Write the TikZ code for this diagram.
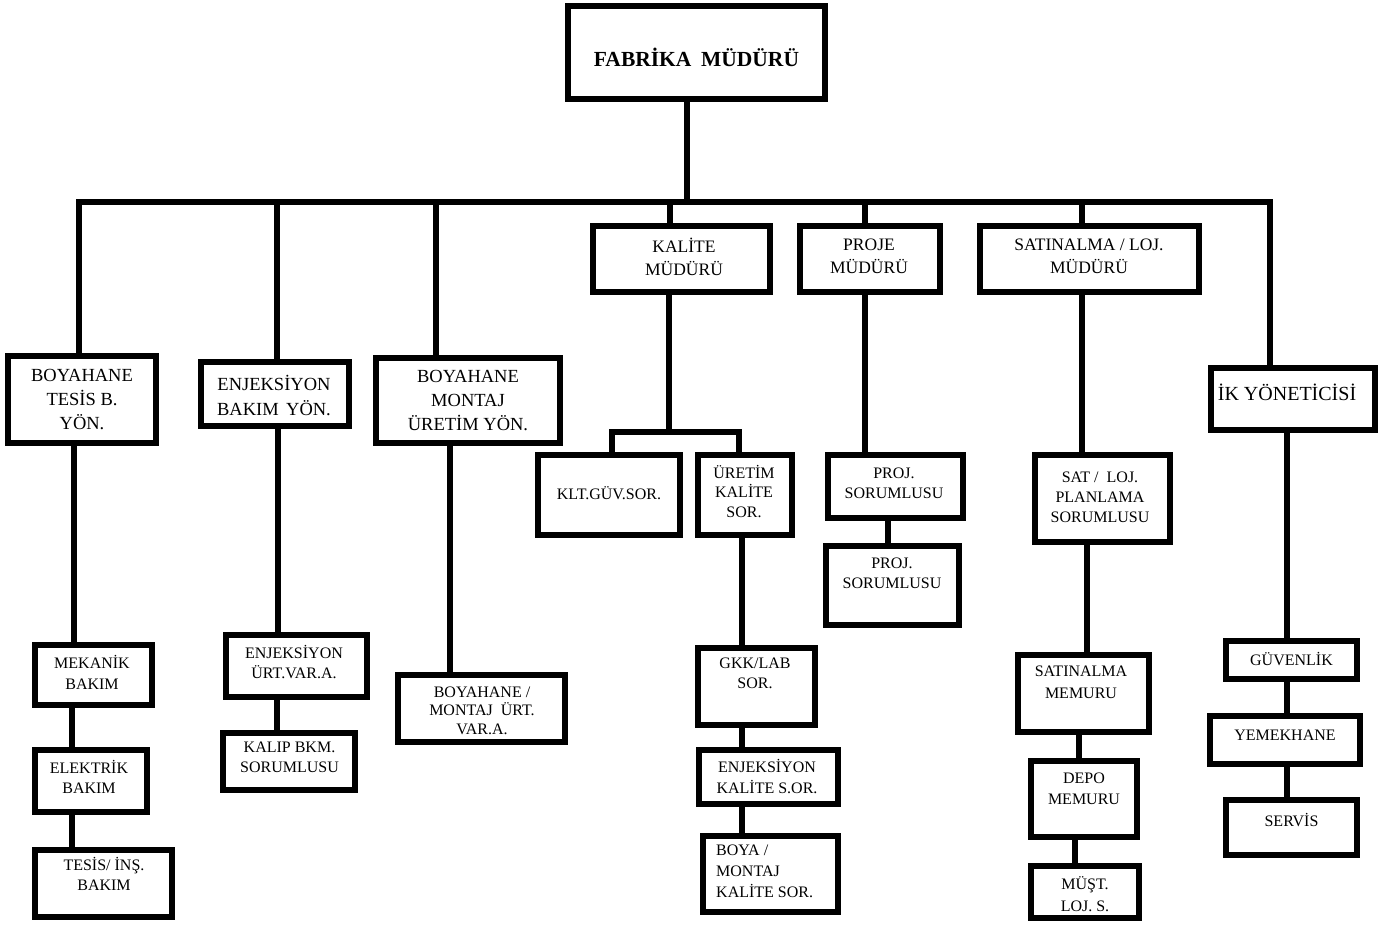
\documentclass[tikz,border=0pt]{standalone}
\usepackage{fontspec}
\setmainfont{Liberation Serif}
% box given by its outer edges: name, x1, y1, x2, y2 (border is 6pt thick)
\newcommand\orgnode[5]{%
  \node[orgbox, minimum width={#4-#2-6}, minimum height={#5-#3-6}] (#1)
    at ({(#2+#4)/2},{(#3+#5)/2}) {};}
\begin{document}
\begin{tikzpicture}[x=1pt,y=-1pt,
  orgbox/.style={draw, line width=6pt, rectangle, inner sep=0pt},
  wire/.style={line width=5.5pt},
  lbl/.style={align=center, inner sep=0pt, font=\fontsize{16}{20}\selectfont},
  lblbig/.style={align=center, inner sep=0pt, font=\fontsize{18.5}{24}\selectfont},
  lblmid/.style={align=center, inner sep=0pt, font=\fontsize{17.5}{23}\selectfont}]
\useasboundingbox (0,0) rectangle (1389,924);

% ---- boxes ----
\orgnode{fab}{565}{3}{828}{102}
\orgnode{b1}{5}{353}{159}{446}
\orgnode{b2}{198}{359}{352}{429}
\orgnode{b3}{373}{355}{563}{446}
\orgnode{kal}{590}{223}{773}{295}
\orgnode{pro}{797}{223}{943}{295}
\orgnode{sat}{977}{223}{1202}{295}
\orgnode{ik}{1208}{365}{1378}{433}
\orgnode{klt}{535}{452}{683}{538}
\orgnode{uks}{695}{452}{795}{538}
\orgnode{gkk}{695}{645}{818}{728}
\orgnode{eks}{696}{747}{841}{807}
\orgnode{bmk}{700}{833}{841}{915}
\orgnode{pj1}{825}{452}{966}{521}
\orgnode{pj2}{823}{543}{962}{628}
\orgnode{spl}{1032}{452}{1173}{545}
\orgnode{smm}{1015}{652}{1152}{735}
\orgnode{dep}{1028}{758}{1140}{840}
\orgnode{mus}{1028}{863}{1142}{921}
\orgnode{gvn}{1223}{638}{1360}{682}
\orgnode{yem}{1207}{713}{1363}{767}
\orgnode{srv}{1223}{797}{1360}{858}
\orgnode{mek}{32}{642}{155}{708}
\orgnode{ele}{32}{747}{150}{815}
\orgnode{tes}{32}{847}{175}{920}
\orgnode{eua}{223}{632}{370}{700}
\orgnode{kbs}{220}{730}{358}{793}
\orgnode{bmu}{395}{672}{568}{745}

% ---- labels ----
\node[inner sep=0pt, font=\bfseries\fontsize{21.5}{26}\selectfont] (fab-t) at (696.5,57) {FABRİKA\hspace{0.45em}MÜDÜRÜ};
\node[lblbig] (b1-t) at (82,399) {BOYAHANE\\TESİS B.\\YÖN.};
\node[lblbig, font=\fontsize{18.5}{25}\selectfont] (b2-t) at (274,395) {ENJEKSİYON\\BAKIM\hspace{0.4em}YÖN.};
\node[lblbig] (b3-t) at (468,400) {BOYAHANE\\MONTAJ\\ÜRETİM YÖN.};
\node[lblmid] (kal-t) at (684,256.5) {KALİTE\\MÜDÜRÜ};
\node[lblmid] (pro-t) at (869,256.5) {PROJE\\MÜDÜRÜ};
\node[lblmid] (sat-t) at (1089,256.5) {SATINALMA / LOJ.\\MÜDÜRÜ};
\node[inner sep=0pt, font=\fontsize{20}{24}\selectfont] (ik-t) at (1287,392) {İK YÖNETİCİSİ};
\node[lbl] (klt-t) at (609,493) {KLT.GÜV.SOR.};
\node[lbl, font=\fontsize{16}{19.5}\selectfont] (uks-t) at (744,491.5) {ÜRETİM\\KALİTE\\SOR.};
\node[lbl] (gkk-t) at (755,673) {GKK/LAB\\SOR.};
\node[lbl, font=\fontsize{16}{21}\selectfont] (eks-t) at (767,776) {ENJEKSİYON\\KALİTE S.OR.};
\node[lbl, align=left, anchor=west, font=\fontsize{16}{21}\selectfont] (bmk-t) at (716,871) {BOYA /\\MONTAJ\\KALİTE SOR.};
\node[lbl] (pj1-t) at (894,483) {PROJ.\\SORUMLUSU};
\node[lbl] (pj2-t) at (892,573) {PROJ.\\SORUMLUSU};
\node[lbl] (spl-t) at (1100,497) {SAT /\hspace{0.5em}LOJ.\\PLANLAMA\\SORUMLUSU};
\node[lbl, font=\fontsize{16}{22}\selectfont] (smm-t) at (1081,682) {SATINALMA\\MEMURU};
\node[lbl, font=\fontsize{16}{21}\selectfont] (dep-t) at (1084,789) {DEPO\\MEMURU};
\node[lbl, font=\fontsize{16}{22}\selectfont] (mus-t) at (1085,894) {MÜŞT.\\LOJ. S.};
\node[lbl] (gvn-t) at (1291.5,659) {GÜVENLİK};
\node[lbl] (yem-t) at (1285,735) {YEMEKHANE};
\node[lbl] (srv-t) at (1291.5,820) {SERVİS};
\node[lbl, font=\fontsize{16}{21}\selectfont] (mek-t) at (92,672.5) {MEKANİK\\BAKIM};
\node[lbl] (ele-t) at (89,777) {ELEKTRİK\\BAKIM};
\node[lbl] (tes-t) at (104,874) {TESİS/ İNŞ.\\BAKIM};
\node[lbl] (eua-t) at (294,662.5) {ENJEKSİYON\\ÜRT.VAR.A.};
\node[lbl] (kbs-t) at (289.5,757.5) {KALIP BKM.\\SORUMLUSU};
\node[lbl, font=\fontsize{16}{18.5}\selectfont] (bmu-t) at (482,710.5) {BOYAHANE /\\MONTAJ\hspace{0.5em}ÜRT.\\VAR.A.};

% ---- main bus ----
\coordinate (dT) at (687,202);
\coordinate (dA) at (79,202);
\coordinate (dB) at (277,202);
\coordinate (dC) at (436,202);
\coordinate (dD) at (670,202);
\coordinate (dE) at (865,202);
\coordinate (dF) at (1082,202);
\coordinate (dG) at (1270,202);
\draw[wire] (fab.south -| dT) -- (dT);
\draw[wire] (dA |- b1.north) -- (dA) -- (dG) -- (dG |- ik.north);
\draw[wire] (dB) -- (dB |- b2.north);
\draw[wire] (dC) -- (dC |- b3.north);
\draw[wire] (dD) -- (dD |- kal.north);
\draw[wire] (dE) -- (dE |- pro.north);
\draw[wire] (dF) -- (dF |- sat.north);

% ---- quality branch ----
\coordinate (kq) at (669,432);
\coordinate (kq1) at (612,432);
\coordinate (kq2) at (739,432);
\draw[wire] (kal.south -| kq) -- (kq);
\draw[wire] (klt.north -| kq1) -- (kq1) -- (kq2) -- (uks.north -| kq2);
\draw[wire] (uks.south -| 742,0) -- (gkk.north -| 742,0);
\draw[wire] (gkk.south -| 742,0) -- (eks.north -| 742,0);
\draw[wire] (eks.south -| 742,0) -- (bmk.north -| 742,0);

% ---- left columns ----
\draw[wire] (b1.south -| 74,0) -- (mek.north -| 74,0);
\draw[wire] (mek.south -| 72,0) -- (ele.north -| 72,0);
\draw[wire] (ele.south -| 72,0) -- (tes.north -| 72,0);
\draw[wire] (b2.south -| 278,0) -- (eua.north -| 278,0);
\draw[wire] (eua.south -| 277,0) -- (kbs.north -| 277,0);
\draw[wire] (b3.south -| 450,0) -- (bmu.north -| 450,0);

% ---- project, purchasing, HR ----
\draw[wire] (pro.south -| 865,0) -- (pj1.north -| 865,0);
\draw[wire] (pj1.south -| 888,0) -- (pj2.north -| 888,0);
\draw[wire] (sat.south -| 1082,0) -- (spl.north -| 1082,0);
\draw[wire] (spl.south -| 1087,0) -- (smm.north -| 1087,0);
\draw[wire] (smm.south -| 1079,0) -- (dep.north -| 1079,0);
\draw[wire] (dep.south -| 1075,0) -- (mus.north -| 1075,0);
\draw[wire] (ik.south -| 1287,0) -- (gvn.north -| 1287,0);
\draw[wire] (gvn.south -| 1287,0) -- (yem.north -| 1287,0);
\draw[wire] (yem.south -| 1287,0) -- (srv.north -| 1287,0);
\end{tikzpicture}
\end{document}
